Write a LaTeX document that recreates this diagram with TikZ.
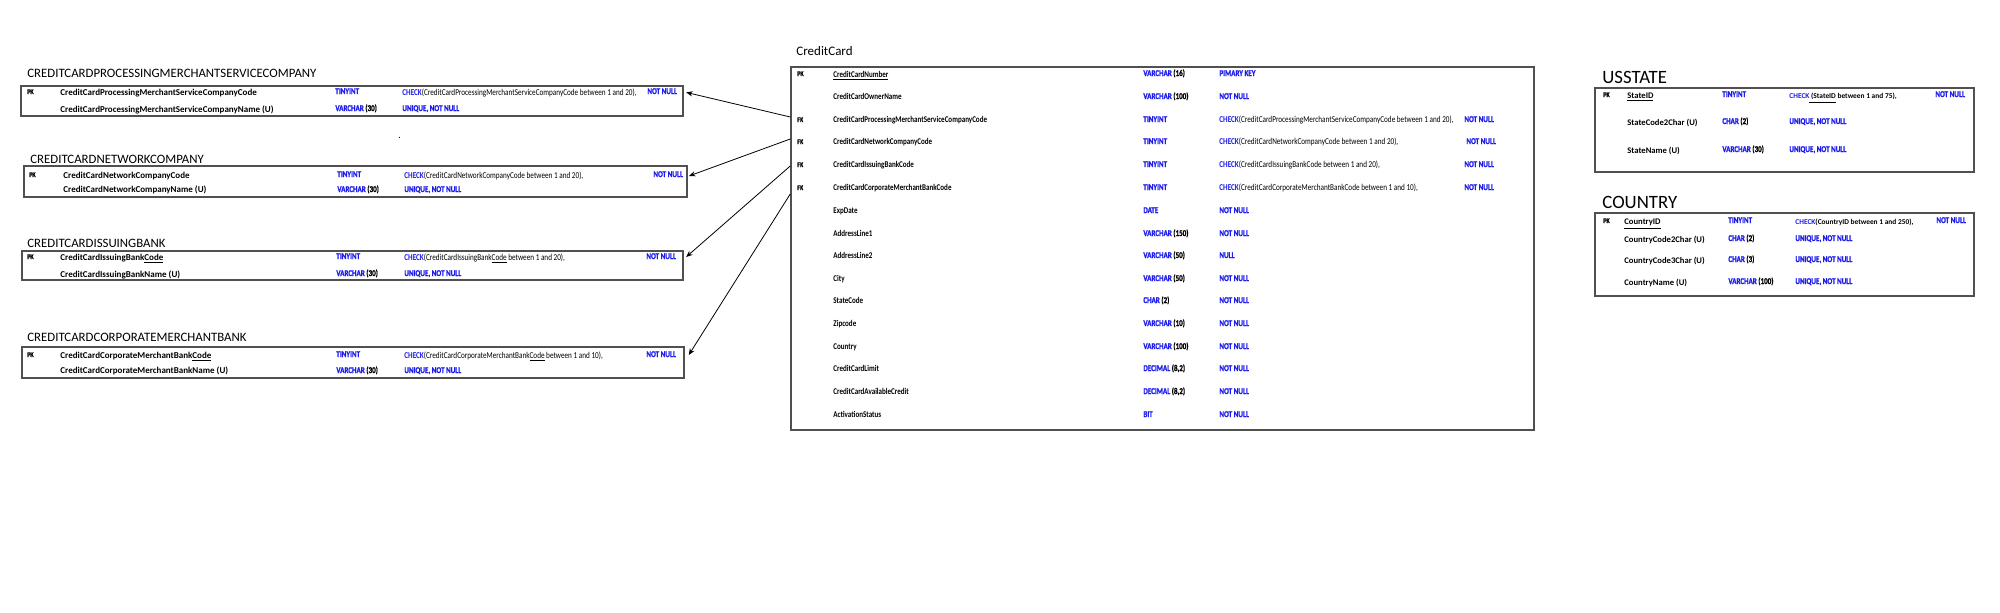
\documentclass[tikz,border=0pt]{standalone}
\usepackage{fontspec}
\setmainfont{Carlito}
\newfontfamily\narrowfont[FakeStretch=0.8]{Carlito}
\newfontfamily\heavyfont[FakeStretch=0.8,FakeBold=1.2]{Carlito}
\usepackage{tikz}
\usetikzlibrary{arrows.meta,calc,fit,positioning}
\definecolor{sqlblue}{RGB}{28,28,235}
\definecolor{boxgray}{RGB}{80,80,80}
\newcommand{\tsz}[1]{\fontsize{#1}{#1}\selectfont}
\newcommand{\blu}[1]{\textcolor{sqlblue}{#1}}
\newcommand{\chk}{\textcolor{sqlblue}{\bfseries CHECK}}
\tikzset{
	er diagram/.style={x=0.5pt, y=-0.5pt},
	tbl/.style={draw=boxgray, line width=0.75pt, inner sep=0pt},
	tbl title/.style={anchor=west, inner sep=0pt, font=\tsz{6.4}},
	big title/.style={anchor=west, inner sep=0pt, font=\tsz{9.4}},
	cell/.style={anchor=west, inner sep=0pt, text height=1.4ex, text depth=.35ex},
	key/.style={cell, font=\heavyfont\bfseries\tsz{3.6}},
	field/.style={cell, font=\bfseries\tsz{4.5}},
	cc field/.style={cell, font=\narrowfont\bfseries\tsz{4.4}},
	us field/.style={cell, font=\bfseries\tsz{4.3}},
	sqltype/.style={cell, font=\heavyfont\bfseries\tsz{4.4}},
	nn/.style={sqltype, text=sqlblue},
	constraint/.style={cell, font=\narrowfont\tsz{4.5}},
	us constraint/.style={cell, font=\bfseries\tsz{3.7}},
	fk ref/.style={-{Stealth[length=3.2pt,width=2.6pt]}, line width=0.4pt},
}

\begin{document}
\begin{tikzpicture}[er diagram]
	\useasboundingbox (0,0) rectangle (2000,613);
	% lookup tables, left
	\node[tbl title] (pmscTitle) at (27,73) {CREDITCARDPROCESSINGMERCHANTSERVICECOMPANY};
	\node[tbl, fit={(21,86) (683,116)}] (pmsc) {};
	\node[key] (pmscK) at (27,89) {PK};
	\node[field] (pmscCode) at (60,90) {CreditCardProcessingMerchantServiceCompanyCode};
	\node[nn] (pmscT1) at (335,89) {TINYINT};
	\node[constraint] (pmscC1) at (402,90) {\chk(CreditCardProcessingMerchantServiceCompanyCode between 1 and 20),};
	\node[nn] (pmscN1) at (647,89) {NOT NULL};
	\node[field] (pmscName) at (60,107) {CreditCardProcessingMerchantServiceCompanyName (U)};
	\node[sqltype] (pmscT2) at (335,106) {\blu{VARCHAR} (30)};
	\node[nn] (pmscC2) at (402,106) {UNIQUE, NOT NULL};
	\node[cell, font=\tsz{5}] (dot) at (398,133) {.};

	\node[tbl title] (netTitle) at (30,159) {CREDITCARDNETWORKCOMPANY};
	\node[tbl, fit={(24,166) (687,197)}] (net) {};
	\node[key] (netK) at (29,172) {PK};
	\node[field] (netCode) at (63,173) {CreditCardNetworkCompanyCode};
	\node[nn] (netT1) at (337,172) {TINYINT};
	\node[constraint] (netC1) at (404,173) {\chk(CreditCardNetworkCompanyCode between 1 and 20),};
	\node[nn] (netN1) at (653,172) {NOT NULL};
	\node[field] (netName) at (63,187) {CreditCardNetworkCompanyName (U)};
	\node[sqltype] (netT2) at (337,187) {\blu{VARCHAR} (30)};
	\node[nn] (netC2) at (404,187) {UNIQUE, NOT NULL};

	\node[tbl title] (issTitle) at (27,243) {CREDITCARDISSUINGBANK};
	\node[tbl, fit={(22,251) (683,280)}] (iss) {};
	\node[key] (issK) at (27,254) {PK};
	\node[field] (issCode) at (60,255) {CreditCardIssuingBank\underline{Code}};
	\node[nn] (issT1) at (336,254) {TINYINT};
	\node[constraint] (issC1) at (404,255) {\chk(CreditCardIssuingBank\underline{Code} between 1 and 20),};
	\node[nn] (issN1) at (646,254) {NOT NULL};
	\node[field] (issName) at (60,272) {CreditCardIssuingBankName (U)};
	\node[sqltype] (issT2) at (336,271) {\blu{VARCHAR} (30)};
	\node[nn] (issC2) at (404,271) {UNIQUE, NOT NULL};

	\node[tbl title] (corpTitle) at (27,337) {CREDITCARDCORPORATEMERCHANTBANK};
	\node[tbl, fit={(22,347) (684,378)}] (corp) {};
	\node[key] (corpK) at (27,352) {PK};
	\node[field] (corpCode) at (60,353) {CreditCardCorporateMerchantBank\underline{Code}};
	\node[nn] (corpT1) at (336,352) {TINYINT};
	\node[constraint] (corpC1) at (404,353) {\chk(CreditCardCorporateMerchantBank\underline{Code} between 1 and 10),};
	\node[nn] (corpN1) at (646,352) {NOT NULL};
	\node[field] (corpName) at (60,368) {CreditCardCorporateMerchantBankName (U)};
	\node[sqltype] (corpT2) at (336,368) {\blu{VARCHAR} (30)};
	\node[nn] (corpC2) at (404,368) {UNIQUE, NOT NULL};

	% main table
	\node[tbl title, font=\tsz{6.5}] (ccTitle) at (796,51) {CreditCard};
	\node[tbl, fit={(791,67) (1534,430)}] (cc) {};
	\node[key] (ccPK) at (797,71) {PK};
	\node[cc field] (ccNumber) at (833,72) {\underline{CreditCardNumber}};
	\node[sqltype] (ccNumberT) at (1143,71) {\blu{VARCHAR} (16)};
	\node[nn] (ccNumberC) at (1219,71) {PIMARY KEY};
	\node[cc field] (ccOwner) at (833,94) {CreditCardOwnerName};
	\node[sqltype] (ccOwnerT) at (1143,94) {\blu{VARCHAR} (100)};
	\node[nn] (ccOwnerC) at (1219,94) {NOT NULL};
	\foreach \y/\f/\c/\n [count=\i] in {117/CreditCardProcessingMerchantServiceCompanyCode/CreditCardProcessingMerchantServiceCompanyCode between 1 and 20/1464,
		139/CreditCardNetworkCompanyCode/CreditCardNetworkCompanyCode between 1 and 20/1466,
		162/CreditCardIssuingBankCode/CreditCardIssuingBankCode between 1 and 20/1464,
		185/CreditCardCorporateMerchantBankCode/CreditCardCorporateMerchantBankCode between 1 and 10/1464}{
		\node[key] (ccFK\i K) at (797,\y) {FK};
		\node[cc field] (ccFK\i) at (833,\y) {\f};
		\node[nn] (ccFK\i T) at (1143,\y) {TINYINT};
		\node[constraint] (ccFK\i C) at (1219,\y) {\chk(\c),};
		\node[nn] (ccFK\i N) at (\n,\y) {NOT NULL};
	}
	\foreach \y/\f/\t/\s/\c in {208/ExpDate/DATE//NOT NULL, 231/AddressLine1/VARCHAR/(150)/NOT NULL,
		253/AddressLine2/VARCHAR/(50)/NULL, 276/City/VARCHAR/(50)/NOT NULL, 298/StateCode/CHAR/(2)/NOT NULL,
		321/Zipcode/VARCHAR/(10)/NOT NULL, 344/Country/VARCHAR/(100)/NOT NULL,
		366/CreditCardLimit/DECIMAL/{(8,2)}/NOT NULL, 389/CreditCardAvailableCredit/DECIMAL/{(8,2)}/NOT NULL,
		412/ActivationStatus/BIT//NOT NULL}{
		\node[cc field] (cc\f) at (833,\y) {\f};
		\node[sqltype] (cc\f T) at (1143,\y) {\blu{\t} \s};
		\node[nn] (cc\f C) at (1219,\y) {\c};
	}

	% right tables
	\node[big title] (usTitle) at (1602,77) {USSTATE};
	\node[tbl, fit={(1595,88) (1974,172)}] (us) {};
	\node[key] (usK) at (1603,92) {PK};
	\node[us field] (usID) at (1627,93) {\underline{StateID}};
	\node[nn] (usIDT) at (1722,92) {TINYINT};
	\node[us constraint] (usIDC) at (1789,93) {\chk\underline{\ (StateID} between 1 and 75),};
	\node[nn] (usIDN) at (1935,92) {NOT NULL};
	\node[us field] (usCode) at (1627,120) {StateCode2Char (U)};
	\node[sqltype] (usCodeT) at (1722,119) {\blu{CHAR} (2)};
	\node[nn] (usCodeC) at (1789,119) {UNIQUE, NOT NULL};
	\node[us field] (usName) at (1627,148) {StateName (U)};
	\node[sqltype] (usNameT) at (1722,147) {\blu{VARCHAR} (30)};
	\node[nn] (usNameC) at (1789,147) {UNIQUE, NOT NULL};

	\node[big title] (coTitle) at (1602,202) {COUNTRY};
	\node[tbl, fit={(1595,213) (1974,296)}] (co) {};
	\node[key] (coK) at (1603,218) {PK};
	\node[us field] (coID) at (1624,219) {\underline{CountryID}};
	\node[nn] (coIDT) at (1728,218) {TINYINT};
	\node[us constraint] (coIDC) at (1795,219) {\chk(CountryID between 1 and 250),};
	\node[nn] (coIDN) at (1936,218) {NOT NULL};
	\node[us field] (coC2) at (1624,237) {CountryCode2Char (U)};
	\node[sqltype] (coC2T) at (1728,236) {\blu{CHAR} (2)};
	\node[nn] (coC2C) at (1795,236) {UNIQUE, NOT NULL};
	\node[us field] (coC3) at (1624,258) {CountryCode3Char (U)};
	\node[sqltype] (coC3T) at (1728,257) {\blu{CHAR} (3)};
	\node[nn] (coC3C) at (1795,257) {UNIQUE, NOT NULL};
	\node[us field] (coName) at (1624,280) {CountryName (U)};
	\node[sqltype] (coNameT) at (1728,279) {\blu{VARCHAR} (100)};
	\node[nn] (coNameC) at (1795,279) {UNIQUE, NOT NULL};

	% foreign keys
	\draw[fk ref] (cc.west |- ccFK1) -- ([xshift=1.2pt,yshift=-1.2pt]pmsc.east |- pmscCode);
	\draw[fk ref] (cc.west |- ccFK2) -- ([xshift=0.6pt,yshift=-1.5pt]net.east |- netCode);
	\draw[fk ref] ([yshift=-2pt]cc.west |- ccFK3) -- ([xshift=1.2pt,yshift=-1pt]iss.east |- issCode);
	\draw[fk ref] ([yshift=-4.5pt]cc.west |- ccFK4) -- ([xshift=2pt,yshift=-1pt]corp.east |- corpCode);
\end{tikzpicture}
\end{document}
